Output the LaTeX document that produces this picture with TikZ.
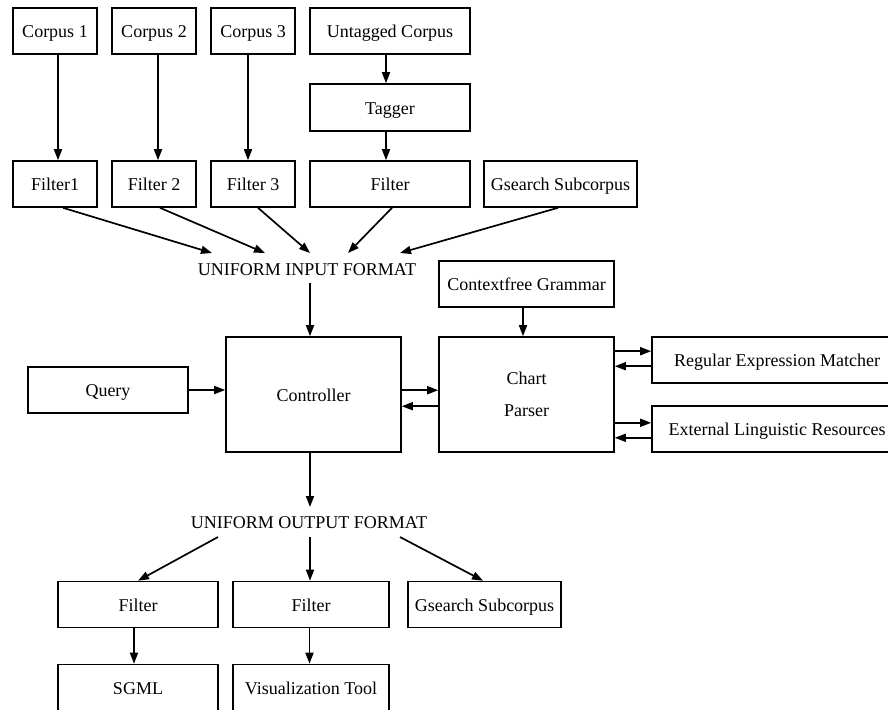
\documentclass[tikz,border=0pt]{standalone}
\usepackage{fontspec}
\setmainfont{Liberation Serif}
\usetikzlibrary{arrows.meta}
\begin{document}
\begin{tikzpicture}[x=1pt,y=-1pt,
  box/.style={draw, line width=1.6pt, inner sep=0pt, minimum height=46pt,
     text height=16.5pt, text depth=3pt,
     font=\fontsize{18}{32}\selectfont},
  lbl/.style={inner sep=0pt, font=\fontsize{18}{20}\selectfont},
  arr/.style={line width=1.7pt, -{Triangle[length=11pt,width=8pt]}}]
\useasboundingbox (0,0) rectangle (888,709);
% top
\node[box, minimum width=84pt] (c1) at (55,31) {Corpus 1};
\node[box, minimum width=84pt] (c2) at (154,31) {Corpus 2};
\node[box, minimum width=84pt] (c3) at (253,31) {Corpus 3};
\node[box, minimum width=160pt] (uc) at (390,31) {Untagged Corpus};
\node[box, minimum width=160pt, minimum height=47pt] (tag) at (390,107.5) {Tagger};
\node[box, minimum width=84pt] (f1) at (55,184) {Filter1};
\node[box, minimum width=84pt] (f2) at (154,184) {Filter 2};
\node[box, minimum width=84pt] (f3) at (253,184) {Filter 3};
\node[box, minimum width=160pt] (f4) at (390,184) {Filter};
\node[box, minimum width=153pt] (gs1) at (560.5,184) {Gsearch Subcorpus};
% middle
\node[lbl] (uif) at (307,270) {UNIFORM INPUT FORMAT};
\node[box, minimum width=175pt] (cg) at (526.5,284) {Contextfree Grammar};
\node[box, minimum width=175pt, minimum height=115pt] (ctrl) at (313.5,394.5) {Controller};
\node[box, minimum width=175pt, minimum height=115pt, text height=, text depth=, align=center] (chart) at (526.5,394.5) {Chart\\Parser};
\node[box, minimum width=160pt] (query) at (108,390) {Query};
\node[box, minimum width=250pt] (rem) at (777,360) {Regular Expression Matcher};
\node[box, minimum width=250pt] (elr) at (777,429) {External Linguistic Resources};
% bottom
\node[lbl] (uof) at (309,523) {UNIFORM OUTPUT FORMAT};
\node[box, minimum width=160pt] (fo1) at (138,604.5) {Filter};
\node[box, minimum width=156pt] (fo2) at (311,604.5) {Filter};
\node[box, minimum width=153pt] (gs2) at (484.5,604.5) {Gsearch Subcorpus};
\node[box, minimum width=160pt] (sgml) at (138,687.5) {SGML};
\node[box, minimum width=156pt] (vis) at (311,687.5) {Visualization Tool};
% coordinates near the labels
\coordinate (in1) at (212,253);
\coordinate (in2) at (265,253);
\coordinate (in3) at (310,253);
\coordinate (in4) at (348,253);
\coordinate (in5) at (400,253);
\coordinate (inout) at (310,283);
\coordinate (outin) at (310,507);
\coordinate (out1) at (218,537);
\coordinate (out2) at (310,537);
\coordinate (out3) at (400,537);
% arrows top
\draw[arr] ([xshift=3pt]c1.south) -- ([xshift=3pt]f1.north);
\draw[arr] ([xshift=4pt]c2.south) -- ([xshift=4pt]f2.north);
\draw[arr] ([xshift=-5pt]c3.south) -- ([xshift=-5pt]f3.north);
\draw[arr] ([xshift=-4pt]uc.south) -- ([xshift=-4pt]tag.north);
\draw[arr] ([xshift=-4pt]tag.south) -- ([xshift=-4pt]f4.north);
\draw[arr] ([xshift=8pt]f1.south) -- (in1);
\draw[arr] ([xshift=6pt]f2.south) -- (in2);
\draw[arr] ([xshift=5pt]f3.south) -- (in3);
\draw[arr] ([xshift=2pt]f4.south) -- (in4);
\draw[arr] ([xshift=-2.5pt]gs1.south) -- (in5);
% middle arrows
\draw[arr] (inout) -- ([xshift=-3.5pt]ctrl.north);
\draw[arr] (query.east) -- (ctrl.west |- query.east);
\draw[arr] ([xshift=-3.5pt]cg.south) -- ([xshift=-3.5pt]chart.north);
\draw[arr] ([yshift=-54pt]ctrl.north east) -- ([yshift=-54pt]chart.north west);
\draw[arr] ([yshift=-70pt]chart.north west) -- ([yshift=-70pt]ctrl.north east);
\draw[arr] ([yshift=-15pt]chart.north east) -- ([yshift=-15pt]rem.north west);
\draw[arr] ([yshift=-30pt]rem.north west) -- ([yshift=-30pt]chart.north east);
\draw[arr] ([yshift=30pt]chart.south east) -- ([yshift=30pt]elr.south west);
\draw[arr] ([yshift=15pt]elr.south west) -- ([yshift=15pt]chart.south east);
% bottom arrows
\draw[arr] ([xshift=-3.5pt]ctrl.south) -- (outin);
\draw[arr] (out1) -- (fo1.north);
\draw[arr] (out2) -- ([xshift=-1pt]fo2.north);
\draw[arr] (out3) -- ([xshift=-1.5pt]gs2.north);
\draw[arr] ([xshift=-4pt]fo1.south) -- ([xshift=-4pt]sgml.north);
\draw[arr] ([xshift=-1.5pt]fo2.south) -- ([xshift=-1.5pt]vis.north);
\end{tikzpicture}
\end{document}
